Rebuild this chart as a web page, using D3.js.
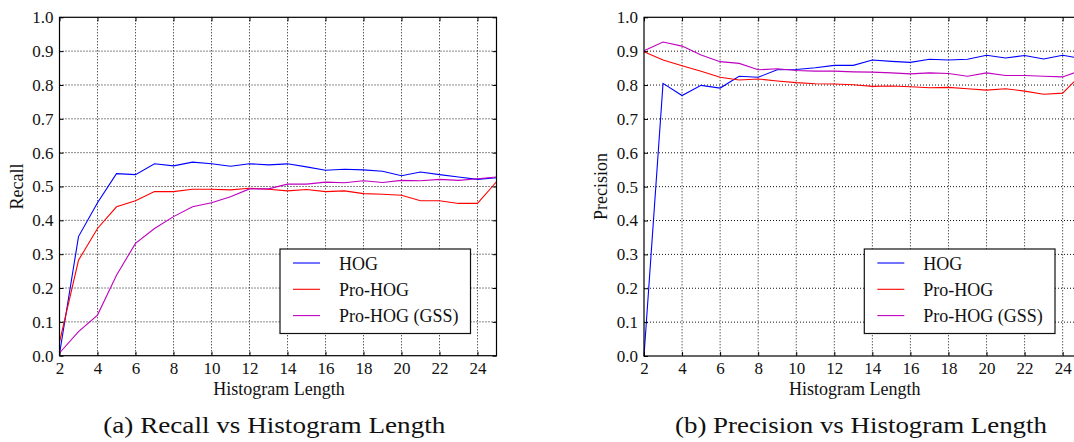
<!DOCTYPE html>
<html>
<head>
<meta charset="utf-8">
<script src="https://cdn.jsdelivr.net/npm/d3@7"></script>
<style>
  html, body { margin: 0; padding: 0; background: #fff; }
  svg { display: block; }
  svg text { font-family: 'Liberation Serif', 'Times New Roman', Times, serif !important; fill: #111; }
</style>
</head>
<body>
<svg id="chart" width="1074" height="442"></svg>
<script>
// ---------- data ----------
const histLengths = [2,3,4,5,6,7,8,9,10,11,12,13,14,15,16,17,18,19,20,21,22,23,24,25];
const xTickValues = [2,4,6,8,10,12,14,16,18,20,22,24];
const yTickValues = [0,0.1,0.2,0.3,0.4,0.5,0.6,0.7,0.8,0.9,1.0];
const seriesNames = ["HOG", "Pro-HOG", "Pro-HOG (GSS)"];
const seriesColors = ["#0000ff", "#ff0000", "#bf00bf"];

// Recall (a)
const recallHOG    = [0.005,0.352,0.452,0.538,0.535,0.567,0.561,0.572,0.567,0.560,0.567,0.564,0.567,0.558,0.548,0.551,0.549,0.545,0.532,0.543,0.535,0.528,0.521,0.526];
const recallProHOG = [0.04,0.282,0.376,0.440,0.458,0.485,0.485,0.492,0.492,0.490,0.495,0.492,0.487,0.491,0.485,0.487,0.479,0.477,0.474,0.458,0.458,0.450,0.450,0.514];
const recallGSS    = [0.008,0.071,0.120,0.238,0.332,0.376,0.411,0.440,0.452,0.470,0.493,0.493,0.507,0.507,0.513,0.511,0.517,0.512,0.518,0.517,0.521,0.518,0.523,0.528];

// Precision (b)
const precHOG    = [0.0,0.805,0.769,0.799,0.791,0.826,0.823,0.845,0.846,0.851,0.858,0.858,0.874,0.870,0.867,0.876,0.874,0.876,0.888,0.880,0.887,0.877,0.888,0.878];
const precProHOG = [0.898,0.874,0.857,0.841,0.823,0.815,0.818,0.812,0.807,0.804,0.803,0.801,0.796,0.797,0.795,0.792,0.793,0.789,0.785,0.789,0.782,0.773,0.776,0.833];
const precGSS    = [0.901,0.927,0.915,0.889,0.869,0.864,0.845,0.848,0.843,0.841,0.841,0.839,0.838,0.836,0.833,0.836,0.834,0.826,0.836,0.828,0.828,0.826,0.824,0.844];

const xTitle = "Histogram Length";

// ---------- drawing ----------
const svg = d3.select("#chart");
const FONT = "'Liberation Serif', 'Times New Roman', Times, serif";

function panel(opts) {
  const {left, unit, top, bottom, yTitle, yTitleX, series, legendBox, caption, captionX, captionLen} = opts;
  const x = d3.scaleLinear().domain([2, 25]).range([left, left + 23 * unit]);
  const y = d3.scaleLinear().domain([0, 1]).range([bottom, top]);
  const right = x(25);
  const g = svg.append("g").attr("font-family", FONT);

  // grid
  g.append("g").selectAll("line").data(xTickValues.slice(1)).join("line")
    .attr("x1", d => x(d)).attr("x2", d => x(d)).attr("y1", top).attr("y2", bottom)
    .attr("stroke", "#111").attr("stroke-width", 1).attr("stroke-dasharray", "1,2");
  g.append("g").selectAll("line").data(yTickValues.slice(1, -1)).join("line")
    .attr("x1", left).attr("x2", right).attr("y1", d => y(d)).attr("y2", d => y(d))
    .attr("stroke", "#111").attr("stroke-width", 1).attr("stroke-dasharray", "1,2");

  // lines
  const line = d3.line().x((d, i) => x(histLengths[i])).y(d => y(d));
  series.forEach((vals, i) => {
    g.append("path").datum(vals).attr("d", line)
      .attr("fill", "none").attr("stroke", seriesColors[i]).attr("stroke-width", 1.1);
  });

  // axes (inward ticks)
  const axB = d3.axisBottom(x).tickValues(xTickValues).tickSize(-4).tickPadding(8).tickFormat(d3.format("d"));
  const axT = d3.axisTop(x).tickValues(xTickValues).tickSize(-4).tickFormat("");
  const axL = d3.axisLeft(y).tickValues(yTickValues).tickSize(-4).tickPadding(6).tickFormat(d3.format(".1f"));
  const axR = d3.axisRight(y).tickValues(yTickValues).tickSize(-4).tickFormat("");
  const styleAxis = sel => {
    sel.attr("font-family", FONT);
    sel.select(".domain").remove();
    sel.selectAll("line").attr("stroke", "#000");
    sel.selectAll("text").style("font-family", FONT).attr("font-size", 17).attr("fill", "#111");
  };
  g.append("g").attr("transform", `translate(0,${bottom})`).call(axB).call(styleAxis)
    .selectAll("text").attr("dy", "0.71em").attr("y", 6);
  g.append("g").attr("transform", `translate(0,${top})`).call(axT).call(styleAxis);
  g.append("g").attr("transform", `translate(${left},0)`).call(axL).call(styleAxis);
  g.append("g").attr("transform", `translate(${right},0)`).call(axR).call(styleAxis);

  // frame
  g.append("rect").attr("x", left).attr("y", top).attr("width", right - left).attr("height", bottom - top)
    .attr("fill", "none").attr("stroke", "#000").attr("stroke-width", 1.2);

  // axis titles
  g.append("text").attr("x", x(2) + (x(25) - x(2)) / 2 - (opts.xTitleShift || 0)).attr("y", 395)
    .attr("text-anchor", "middle").attr("font-size", 18).text(xTitle);
  g.append("text").attr("transform", `translate(${yTitleX},${186.5}) rotate(-90)`)
    .attr("text-anchor", "middle").attr("font-size", 18).text(yTitle);

  // legend
  const lg = g.append("g");
  lg.append("rect").attr("x", legendBox.x).attr("y", legendBox.y).attr("width", legendBox.w).attr("height", legendBox.h)
    .attr("fill", "#fff").attr("stroke", "#111").attr("stroke-width", 1.2);
  seriesNames.forEach((name, i) => {
    const cy = legendBox.y + 14 + i * 26.3;
    lg.append("line").attr("x1", legendBox.x + 13).attr("x2", legendBox.x + 40).attr("y1", cy).attr("y2", cy)
      .attr("stroke", seriesColors[i]).attr("stroke-width", 1.1);
    lg.append("text").attr("x", legendBox.x + 59).attr("y", cy + 6.5).attr("font-size", 18).text(name);
  });

  // caption
  g.append("text").attr("x", captionX).attr("y", 433).attr("font-size", 24)
    .attr("textLength", captionLen).attr("lengthAdjust", "spacingAndGlyphs").text(caption);

  g.selectAll("text").style("font-family", FONT);
}

panel({
  left: 59.5, unit: 19.0, top: 17.3, bottom: 355.7,
  yTitle: "Recall", yTitleX: 23,
  series: [recallHOG, recallProHOG, recallGSS],
  legendBox: {x: 280, y: 249, w: 190.5, h: 84.5},
  caption: "(a) Recall vs Histogram Length", captionX: 103.3, captionLen: 342,
  xTitleShift: -1
});
panel({
  left: 644, unit: 19.03, top: 17.3, bottom: 356,
  yTitle: "Precision", yTitleX: 607,
  series: [precHOG, precProHOG, precGSS],
  legendBox: {x: 864.3, y: 249, w: 190.7, h: 84.5},
  caption: "(b) Precision vs Histogram Length", captionX: 675, captionLen: 372,
  xTitleShift: 8
});
</script>
</body>
</html>
